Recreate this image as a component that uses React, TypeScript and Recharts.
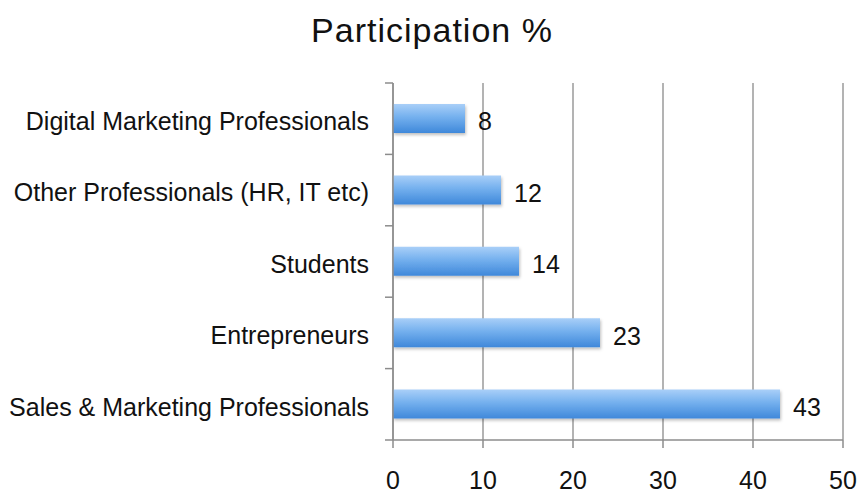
import React from "react"
import { BarChart, Bar, XAxis, YAxis, CartesianGrid, LabelList } from "recharts"

const categories = [
  "Digital Marketing Professionals",
  "Other Professionals (HR, IT etc)",
  "Students",
  "Entrepreneurs",
  "Sales & Marketing Professionals",
]
const participation = [8, 12, 14, 23, 43]
const xTicks = [0, 10, 20, 30, 40, 50]

const FONT = "Liberation Sans, Arial, sans-serif"
const PLOT_TOP = 83
const PLOT_HEIGHT = 357
const X_AXIS_HEIGHT = 54

const chartData = categories.map((name, i) => ({ name, value: participation[i] }))

function CategoryTick(props: any) {
  const { x, y, payload, index } = props
  const band = PLOT_HEIGHT / categories.length
  const axisX = x + 24
  return (
    <g>
      <line x1={axisX - 8} x2={axisX} y1={y - band / 2} y2={y - band / 2} stroke="#8c8c8c" strokeWidth={1.5} />
      {index === categories.length - 1 && (
        <line x1={axisX - 8} x2={axisX} y1={y + band / 2} y2={y + band / 2} stroke="#8c8c8c" strokeWidth={1.5} />
      )}
      <text x={x} y={y} dy="0.45em" textAnchor="end" fontSize={25} fill="#111" fontFamily={FONT}>
        {payload.value}
      </text>
    </g>
  )
}

export default function App() {
  return (
    <div style={{ position: "absolute", left: 0, top: 0, width: 860, height: 494, background: "#fff" }}>
      <div
        style={{
          position: "absolute",
          top: 11,
          left: 0,
          width: 864,
          textAlign: "center",
          fontFamily: FONT,
          fontSize: 34,
          letterSpacing: 1,
          color: "#111",
        }}
      >
        Participation %
      </div>
      <BarChart
        width={860}
        height={494}
        data={chartData}
        layout="vertical"
        margin={{ top: PLOT_TOP, right: 17, bottom: 494 - PLOT_TOP - PLOT_HEIGHT - X_AXIS_HEIGHT, left: 0 }}
        barSize={29}
      >
        <defs>
          <linearGradient id="barFill" x1="0" y1="0" x2="0" y2="1">
            <stop offset="0%" stopColor="#a9cff8" />
            <stop offset="45%" stopColor="#74b0ee" />
            <stop offset="100%" stopColor="#3f88da" />
          </linearGradient>
          <filter id="barShadow" x="-5%" y="-20%" width="110%" height="160%">
            <feDropShadow dx="1" dy="2" stdDeviation="1.5" floodColor="#000" floodOpacity="0.25" />
          </filter>
        </defs>
        <CartesianGrid horizontal={false} stroke="#9a9a9a" strokeWidth={1.5} />
        <XAxis
          type="number"
          domain={[0, 50]}
          ticks={xTicks}
          height={X_AXIS_HEIGHT}
          axisLine={{ stroke: "#8c8c8c", strokeWidth: 1.5 }}
          tickLine={{ stroke: "#8c8c8c", strokeWidth: 1.5 }}
          tickSize={8}
          tickMargin={23}
          tick={{ fontSize: 25, fill: "#111", fontFamily: FONT }}
        />
        <YAxis
          type="category"
          dataKey="name"
          width={393}
          axisLine={{ stroke: "#8c8c8c", strokeWidth: 1.5 }}
          tickLine={false}
          tickSize={0}
          tickMargin={24}
          tick={<CategoryTick />}
        />
        <Bar dataKey="value" fill="url(#barFill)" filter="url(#barShadow)" isAnimationActive={false}>
          <LabelList
            dataKey="value"
            position="right"
            offset={13}
            dy={3}
            style={{ fontSize: 25, fill: "#111", fontFamily: FONT }}
          />
        </Bar>
      </BarChart>
    </div>
  )
}
